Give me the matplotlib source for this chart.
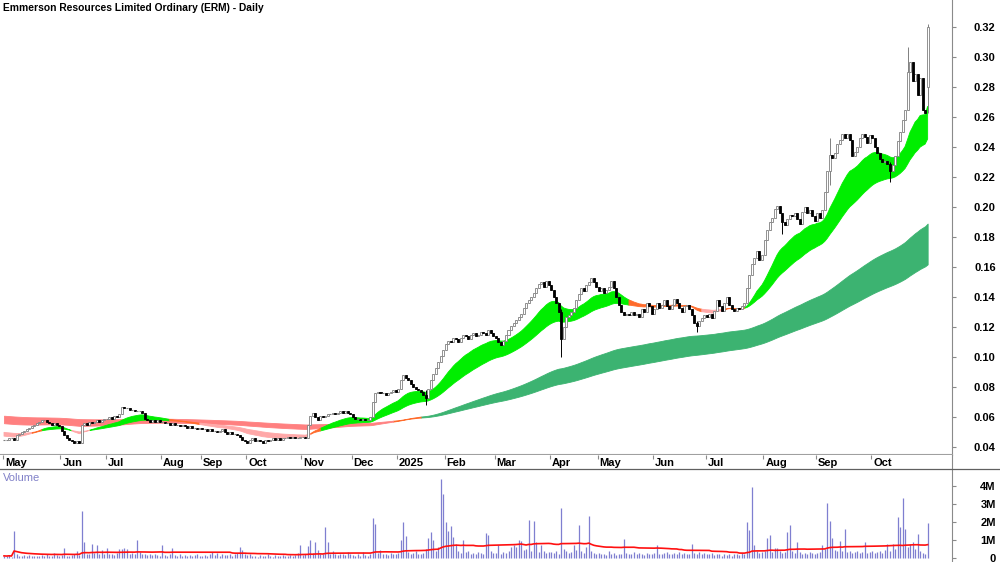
import matplotlib
matplotlib.use("Agg")
import matplotlib.pyplot as plt
import numpy as np
import pandas as pd

plt.rcParams["font.family"] = ["Liberation Sans", "DejaVu Sans"]

TITLE = "Emmerson Resources Limited Ordinary (ERM) - Daily"

# trading bars shown per month (bar index axis, not calendar)
month_labels = ["May", "Jun", "Jul", "Aug", "Sep", "Oct", "Nov", "Dec", "2025",
                "Feb", "Mar", "Apr", "May", "Jun", "Jul", "Aug", "Sep", "Oct"]
month_bars = [23, 18, 22, 16, 18, 22, 20, 18, 19, 20, 22, 19, 22, 21, 23, 21, 22, 23]

# daily closes, cents
close_c = [
    4.5, 4.5, 4.6, 4.6, 4.5, 4.8, 4.9, 5.0, 5.1, 5.2, 5.3, 5.4, 5.5, 5.6, 5.7, 5.8, 5.8, 5.7, 5.6, 5.5, 5.6, 5.5, 5.4,  # May 24
    5.1, 4.8, 4.6, 4.5, 4.4, 4.3, 4.4, 4.3, 5.5, 5.6, 5.5, 5.7, 5.6, 5.7, 5.8, 5.7, 5.8, 5.9,  # Jun
    5.9, 6.0, 5.9, 6.1, 6.0, 6.2, 6.7, 6.6, 6.6, 6.5, 6.5, 6.4, 6.4, 6.4, 6.3, 5.9, 5.8, 5.7, 5.8, 5.7, 5.8, 5.7,  # Jul
    5.7, 5.6, 5.6, 5.5, 5.6, 5.5, 5.5, 5.4, 5.5, 5.4, 5.3, 5.4, 5.3, 5.3, 5.2, 5.3,  # Aug
    5.2, 5.2, 5.1, 5.2, 5.1, 5.1, 5.0, 5.1, 5.2, 5.0, 4.9, 5.0, 4.9, 4.9, 4.8, 4.7, 4.5, 4.4,  # Sep
    4.3, 4.5, 4.6, 4.4, 4.5, 4.4, 4.3, 4.5, 4.4, 4.5, 4.6, 4.5, 4.6, 4.5, 4.6, 4.6, 4.7, 4.6, 4.7, 4.6, 4.6, 4.7,  # Oct
    4.7, 4.6, 5.5, 6.1, 6.3, 6.0, 5.8, 6.1, 6.0, 6.1, 6.2, 6.2, 6.3, 6.2, 6.3, 6.4, 6.3, 6.4, 6.3, 6.2,  # Nov
    6.0, 5.9, 5.9, 5.8, 5.9, 5.8, 5.8, 6.0, 7.0, 7.6, 7.7, 7.6, 7.6, 7.5, 7.6, 7.7, 7.8, 7.7,  # Dec
    7.9, 8.5, 8.8, 8.6, 8.5, 8.2, 8.0, 7.9, 7.8, 7.7, 7.5, 7.3, 7.9, 8.5, 8.9, 9.3, 9.7, 10.1, 10.5,  # Jan 25
    10.9, 11.1, 11.0, 11.3, 11.2, 11.0, 11.3, 11.5, 11.4, 11.2, 11.5, 11.6, 11.4, 11.5, 11.7, 11.6, 11.5, 11.8, 11.6, 11.4,  # Feb
    11.3, 11.0, 10.8, 11.1, 11.5, 11.8, 12.1, 12.3, 12.5, 12.7, 12.9, 13.3, 13.6, 13.8, 14.0, 14.3, 14.6, 14.9, 15.0, 14.7, 15.1, 14.8,  # Mar
    14.5, 14.0, 13.6, 13.0, 11.2, 12.0, 12.7, 12.8, 13.0, 13.3, 13.8, 14.2, 14.6, 14.4, 14.8, 15.0, 15.3, 15.0, 14.7,  # Apr
    14.4, 14.6, 14.3, 14.5, 14.7, 15.1, 14.6, 14.0, 13.5, 13.0, 12.8, 12.9, 12.8, 13.0, 12.8, 12.9, 12.7, 13.2, 13.0, 13.6, 13.4, 12.9,  # May
    13.2, 13.6, 13.3, 13.5, 13.8, 13.4, 13.2, 13.5, 13.9, 13.6, 13.3, 13.0, 13.4, 13.5, 13.2, 12.8, 12.3, 12.1, 12.4, 12.6, 12.8,  # Jun
    12.7, 12.9, 12.6, 13.1, 13.8, 13.4, 13.1, 13.6, 14.0, 13.5, 13.2, 13.1, 13.3, 13.2, 13.4, 13.6, 14.6, 15.5, 16.2, 16.6, 17.1, 16.5, 16.8,  # Jul
    17.8, 18.5, 19.0, 19.3, 19.9, 20.1, 19.6, 19.0, 18.8, 19.2, 19.5, 19.4, 19.6, 19.2, 18.9, 19.7, 20.0, 19.6, 19.8, 19.4, 19.1,  # Aug
    19.6, 19.3, 19.8, 21.0, 22.4, 23.5, 23.3, 23.6, 24.2, 24.5, 24.9, 24.6, 24.9, 24.5, 23.4, 23.7, 24.0, 24.6, 24.9, 24.7, 24.3, 24.8,  # Sep
    24.6, 24.0, 23.6, 23.2, 23.0, 23.1, 22.9, 22.4, 22.8, 23.4, 24.4, 25.0, 25.8, 26.5, 29.0, 29.7, 28.4, 28.9, 27.5, 28.6, 26.5, 26.3, 32.0,  # Oct
]

# bars with visible shadows: bar -> (high, low), cents
wicks = {168: (7.8, 6.8), 222: (13.2, 10.0), 276: (12.4, 11.7), 310: (19.3, 18.2),
         329: (24.6, 21.5), 353: (23.0, 21.7), 360: (30.7, 26.5), 368: (32.2, 26.3)}
# bars that opened away from the prior close: bar -> open, cents
gap_opens = {368: 28.0}

# daily volume, millions
vol_m = [
    0.12, 0.10, 0.15, 0.08, 1.5, 0.20, 0.12, 0.10, 0.15, 0.12, 0.18, 0.10, 0.14, 0.12, 0.10, 0.15, 0.12, 0.20, 0.10, 0.12, 0.30, 0.15, 0.12,
    0.15, 0.55, 0.12, 0.10, 0.15, 0.20, 0.40, 0.18, 2.6, 0.9, 0.25, 0.20, 0.8, 0.30, 0.7, 0.25, 0.45, 0.20,
    0.55, 0.20, 0.25, 0.15, 0.30, 0.50, 0.50, 0.55, 0.50, 0.25, 0.30, 0.20, 1.0, 0.35, 0.25, 0.20, 0.15, 0.20, 0.18, 0.25, 0.15, 0.12,
    0.7, 0.15, 0.10, 0.20, 0.55, 0.15, 0.12, 0.20, 0.10, 0.15, 0.12, 0.18, 0.10, 0.15, 0.20, 0.12,
    0.10, 0.15, 0.12, 0.20, 0.35, 0.15, 0.30, 0.12, 0.25, 0.18, 0.15, 0.20, 0.12, 0.25, 0.30, 0.6, 0.45, 0.20,
    0.15, 0.20, 0.10, 0.12, 0.08, 0.15, 0.10, 0.12, 0.20, 0.10, 0.08, 0.15, 0.12, 0.10, 0.15, 0.12, 0.10, 0.18, 0.12, 0.15, 0.3, 0.7,
    0.15, 0.20, 0.65, 1.0, 0.30, 0.9, 0.45, 0.25, 0.20, 1.7, 0.9, 0.20, 0.40, 0.25, 0.15, 0.20, 0.25, 0.15, 0.35, 0.20,
    0.15, 0.12, 0.20, 0.10, 0.35, 0.15, 0.12, 0.20, 2.2, 1.9, 0.30, 0.45, 0.25, 0.20, 0.15, 0.30, 0.20, 0.25,
    0.30, 1.0, 2.0, 1.2, 0.35, 0.25, 0.30, 0.40, 0.20, 0.25, 0.30, 0.50, 1.1, 1.45, 1.0, 0.40, 0.60, 4.4, 3.55,
    2.0, 1.5, 1.75, 1.15, 0.8, 0.40, 0.30, 1.0, 0.35, 0.40, 0.25, 0.30, 0.20, 0.35, 0.30, 0.25, 1.4, 1.3, 0.40, 0.30,
    0.30, 0.7, 0.25, 0.35, 0.30, 0.40, 0.6, 0.7, 0.6, 1.0, 0.95, 0.45, 0.50, 2.1, 0.40, 2.05, 0.9, 0.35, 0.75, 0.40, 0.30, 0.35,
    0.35, 0.30, 0.40, 0.25, 2.8, 0.50, 0.40, 0.30, 0.35, 0.7, 0.45, 1.85, 0.40, 0.30, 0.6, 2.35, 0.40, 0.30, 0.25,
    0.30, 0.20, 0.25, 0.15, 0.40, 0.20, 0.30, 0.15, 0.25, 0.20, 1.05, 0.30, 0.20, 0.25, 0.35, 0.20, 0.30, 0.25, 0.15, 0.30, 0.20, 0.25,
    0.30, 0.75, 0.25, 0.20, 0.30, 0.35, 0.25, 0.20, 0.30, 0.25, 0.35, 0.20, 0.30, 0.25, 0.20, 0.8, 0.30, 0.25, 0.35, 0.20, 0.30,
    0.25, 0.20, 0.30, 0.15, 0.25, 0.20, 0.10, 0.25, 0.15, 0.20, 0.10, 0.25, 0.20, 0.15, 0.30, 0.20, 2.0, 1.55, 3.95, 0.7, 0.40, 0.30, 0.35,
    0.40, 1.1, 1.3, 0.35, 0.55, 0.55, 0.40, 0.30, 0.35, 1.45, 1.85, 0.40, 0.30, 0.9, 0.35, 0.25, 0.30, 0.20, 0.35, 0.30, 0.25,
    0.30, 0.35, 0.7, 0.50, 3.05, 2.05, 1.1, 0.45, 0.40, 0.95, 0.40, 1.6, 0.35, 0.40, 0.30, 0.35, 0.40, 0.30, 0.35, 0.9, 0.30, 0.35,
    0.40, 0.30, 0.35, 0.40, 0.30, 0.45, 0.8, 0.40, 0.8, 0.50, 2.3, 1.7, 3.35, 1.6, 0.60, 0.8, 0.9, 0.50, 1.35, 0.40, 0.30, 0.25, 1.95,
]

# multiple moving averages (fast to slow) and their starting levels, cents
short_spans = [20, 24, 28, 32, 37, 45]
short_seed = [4.75, 4.80, 4.85, 4.90, 4.95, 5.00]
long_spans = [150, 160, 175, 190, 210, 240]
long_seed = [5.60, 5.70, 5.80, 5.90, 6.00, 6.10]
vol_ma_window = 60


def ema_seeded(values, span, seed):
    alpha = 2.0 / (span + 1)
    out = np.empty(len(values))
    prev = seed
    for i, v in enumerate(values):
        prev = prev + alpha * (v - prev)
        out[i] = prev
    return out


def draw_band(ax, x, emas, colors, z):
    # green when fully fanned upwards, pink when fully downwards, orange when mixed
    emas = np.array(emas)
    lo, hi = emas.min(axis=0), emas.max(axis=0)
    d = np.diff(emas, axis=0)
    state = np.where((d < 0).all(axis=0), 1, np.where((d > 0).all(axis=0), -1, 0))
    for s, col in colors.items():
        m = state == s
        m2 = m.copy()
        m2[1:] |= m[:-1]
        ax.fill_between(x, lo, hi, where=m2, color=col, lw=0.6, zorder=z)


close = np.array(close_c) / 100.0
n = len(close)
x = np.arange(n)
opens = np.r_[close[0], close[:-1]]
for i, o in gap_opens.items():
    opens[i] = o / 100.0
high = np.maximum(opens, close)
low = np.minimum(opens, close)
for i, (h, l) in wicks.items():
    high[i], low[i] = h / 100.0, l / 100.0

short = [ema_seeded(close, s, v / 100.0) for s, v in zip(short_spans, short_seed)]
long_ = [ema_seeded(close, s, v / 100.0) for s, v in zip(long_spans, long_seed)]

vol = np.array(vol_m)
vol_ma = pd.Series(vol).rolling(vol_ma_window, min_periods=1).mean()

month_start = np.r_[0, np.cumsum(month_bars)[:-1]]

W, H = 1000, 562
fig = plt.figure(figsize=(10, 5.62), dpi=100)
ax = fig.add_axes([0, 1 - 455 / H, 952 / W, 455 / H])
axd = fig.add_axes([0, 1 - 469 / H, 952 / W, 14 / H])
axv = fig.add_axes([0, 0, 952 / W, 1 - 469 / H])

xlim = (-1.6, 377.7)
grey = "#8a8a8a"

# price panel
draw_band(ax, x, long_, {1: "#3CB371", 0: "#FF6B2B", -1: "#FF8080"}, 1)
draw_band(ax, x, short, {1: "#00EE00", 0: "#FF6B2B", -1: "#FFA8A8"}, 2)

up = close > opens
down = close < opens
flat = ~(up | down)
ax.vlines(x[~down], low[~down], high[~down], color="#808080", lw=0.7, zorder=3)
ax.vlines(x[down], low[down], high[down], color="black", lw=0.7, zorder=3)
ax.bar(x[up], close[up] - opens[up], bottom=opens[up], width=0.8,
       facecolor="white", edgecolor="#808080", lw=0.6, zorder=4)
ax.bar(x[down], opens[down] - close[down], bottom=close[down], width=0.8,
       facecolor="black", edgecolor="black", lw=0.6, zorder=4)
ax.hlines(close[flat], x[flat] - 0.4, x[flat] + 0.4, color="#808080", lw=0.8, zorder=4)

ax.set_xlim(*xlim)
ax.set_ylim(0.034667, 0.338)
ax.set_yticks(np.arange(0.04, 0.321, 0.02))
ax.yaxis.set_major_formatter(matplotlib.ticker.FuncFormatter(lambda v, p: f"{v:.2f}"))
ax.yaxis.tick_right()
ax.set_xticks([])
for s in ["top", "left"]:
    ax.spines[s].set_visible(False)
ax.spines["right"].set_color(grey)
ax.spines["bottom"].set_color("#a0a0a0")
ax.spines["bottom"].set_linewidth(1.5)
ax.tick_params(axis="y", direction="out", length=3, color=grey, pad=28.5,
               labelsize=8)
for t in ax.get_yticklabels():
    t.set_fontweight("bold")
    t.set_horizontalalignment("right")

fig.text(3 / W, 1 - 8 / H, TITLE, fontsize=7.4, fontweight="bold", va="center", ha="left")

# date strip
axd.set_xlim(*xlim)
axd.set_ylim(0, 1)
axd.set_yticks([])
axd.set_xticks(month_start - 0.5)
axd.set_xticklabels([])
axd.tick_params(axis="x", top=True, bottom=False, direction="in", length=3, color=grey)
for s in ["top", "left", "bottom"]:
    axd.spines[s].set_visible(False)
axd.spines["right"].set_color(grey)
for pos, lab in zip(month_start, month_labels):
    axd.text(pos + 0.3, 0.45, lab, fontsize=8, fontweight="bold", ha="left", va="center")

fig.add_artist(plt.Line2D([0, 1], [1 - 469 / H] * 2, color="#606060", lw=0.9))

# volume panel
axv.vlines(x, 0, vol, color="#7F7FD0", lw=0.9)
axv.plot(x, vol_ma, color="#FF1010", lw=1.2)
axv.set_xlim(*xlim)
axv.set_ylim(-0.22, 4.94)
axv.set_xticks([])
axv.set_yticks([0, 1, 2, 3, 4])
axv.set_yticklabels(["0", "1M", "2M", "3M", "4M"])
axv.yaxis.tick_right()
for s in ["top", "left", "bottom"]:
    axv.spines[s].set_visible(False)
axv.spines["right"].set_color(grey)
axv.tick_params(axis="y", direction="out", length=3, color=grey, pad=28.5, labelsize=8)
for t in axv.get_yticklabels():
    t.set_fontweight("bold")
    t.set_horizontalalignment("right")
axv.text(3 / 952, 1 - 9 / 93, "Volume", transform=axv.transAxes, fontsize=8,
         color="#8080C8", ha="left", va="center")

fig.savefig("out.png", dpi=100)
